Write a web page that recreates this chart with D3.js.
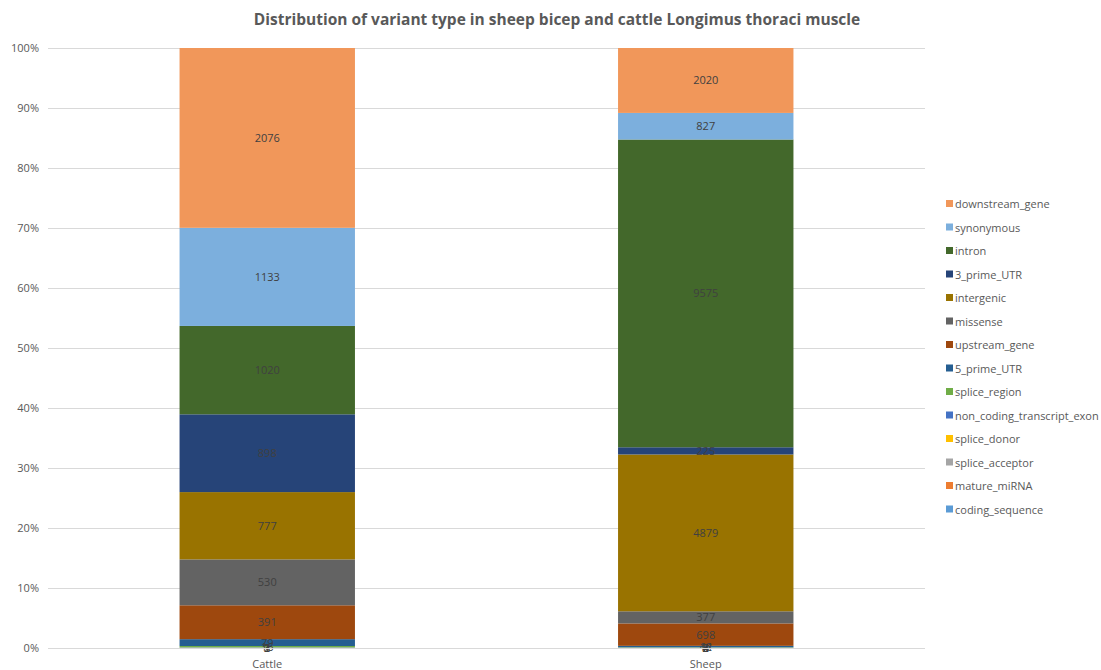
<!DOCTYPE html>
<html>
<head>
<meta charset="utf-8">
<script src="https://cdn.jsdelivr.net/npm/d3@7"></script>
<style>
  body { margin: 0; background: #fff; }
  text { font-family: "Open Sans", "Noto Sans", sans-serif; }
</style>
</head>
<body>
<svg id="chart"></svg>
<script>
const width = 1101, height = 670;

// categories on the x axis
const groups = ["Cattle", "Sheep"];

// variant types, bottom of stack first
const variants = ["coding_sequence", "mature_miRNA", "splice_acceptor", "splice_donor",
  "non_coding_transcript_exon", "splice_region", "5_prime_UTR", "upstream_gene",
  "missense", "intergenic", "3_prime_UTR", "intron", "synonymous", "downstream_gene"];

const colors = ["#5B9BD5", "#ED7D31", "#A5A5A5", "#FFC000", "#4472C4", "#70AD47",
  "#255E91", "#9E480E", "#636363", "#997300", "#264478", "#43682B", "#7CAFDD", "#F1975A"];

// counts per variant type (same order as variants)
const cattleCounts = [1, 0, 2, 1, 3, 16, 79, 391, 530, 777, 898, 1020, 1133, 2076];
const sheepCounts  = [2, 0, 3, 2, 4, 12, 44, 698, 377, 4879, 225, 9575, 827, 2020];

const yTicks = [0, 0.1, 0.2, 0.3, 0.4, 0.5, 0.6, 0.7, 0.8, 0.9, 1];

const table = groups.map((g, i) => {
  const counts = i === 0 ? cattleCounts : sheepCounts;
  const row = { group: g };
  const total = d3.sum(counts);
  variants.forEach((v, j) => { row[v] = counts[j] / total; row[v + "_n"] = counts[j]; });
  return row;
});

const margin = { top: 48, right: 176, bottom: 22, left: 48 };

const svg = d3.select("#chart")
  .attr("width", width)
  .attr("height", height);

const x = d3.scaleBand()
  .domain(groups)
  .range([margin.left, width - margin.right])
  .paddingInner(0.6)
  .paddingOuter(0.3);

const y = d3.scaleLinear()
  .domain([0, 1])
  .range([height - margin.bottom, margin.top]);

// gridlines
svg.append("g")
  .selectAll("line")
  .data(yTicks)
  .enter().append("line")
  .attr("x1", margin.left)
  .attr("x2", width - margin.right)
  .attr("y1", d => Math.round(y(d)) + 0.5)
  .attr("y2", d => Math.round(y(d)) + 0.5)
  .attr("stroke", "#d9d9d9")
  .attr("stroke-width", 1);

// y labels
svg.append("g")
  .selectAll("text")
  .data(yTicks)
  .enter().append("text")
  .attr("x", margin.left - 9)
  .attr("y", d => y(d) + 4)
  .attr("text-anchor", "end")
  .attr("font-size", 11)
  .attr("fill", "#595959")
  .text(d3.format(".0%"));

const stack = d3.stack().keys(variants);
const series = stack(table);

const layers = svg.append("g")
  .selectAll("g")
  .data(series)
  .enter().append("g")
  .attr("fill", (d, i) => colors[i]);

layers.selectAll("rect")
  .data(d => d)
  .enter().append("rect")
  .attr("x", d => x(d.data.group))
  .attr("width", x.bandwidth())
  .attr("y", d => y(d[1]))
  .attr("height", d => y(d[0]) - y(d[1]));

// data labels
const labels = svg.append("g");
series.forEach(s => {
  s.forEach(d => {
    const n = d.data[s.key + "_n"];
    if (n <= 0) return;
    labels.append("text")
      .attr("x", x(d.data.group) + x.bandwidth() / 2)
      .attr("y", y((d[0] + d[1]) / 2) + 4)
      .attr("text-anchor", "middle")
      .attr("font-size", 11)
      .attr("fill", "#404040")
      .text(n);
  });
});

// baseline
svg.append("line")
  .attr("x1", margin.left)
  .attr("x2", width - margin.right)
  .attr("y1", Math.round(y(0)) + 0.5)
  .attr("y2", Math.round(y(0)) + 0.5)
  .attr("stroke", "#d9d9d9");

// x labels
svg.append("g")
  .selectAll("text")
  .data(groups)
  .enter().append("text")
  .attr("x", d => x(d) + x.bandwidth() / 2)
  .attr("y", height - 2)
  .attr("text-anchor", "middle")
  .attr("font-size", 11)
  .attr("fill", "#595959")
  .text(d => d);

// title
svg.append("text")
  .attr("x", 557)
  .attr("y", 25)
  .attr("text-anchor", "middle")
  .attr("font-size", 15.5)
  .attr("font-weight", "bold")
  .attr("fill", "#595959")
  .text("Distribution of variant type in sheep bicep and cattle Longimus thoraci muscle");

// legend, top of stack first
const legendItems = variants.map((v, i) => ({ name: v, color: colors[i] })).reverse();
const legend = svg.append("g")
  .attr("transform", "translate(946, 204)");

const item = legend.selectAll("g")
  .data(legendItems)
  .enter().append("g")
  .attr("transform", (d, i) => "translate(0," + (i * 23.5) + ")");

item.append("rect")
  .attr("x", 0)
  .attr("y", -4)
  .attr("width", 7)
  .attr("height", 7)
  .attr("fill", d => d.color);

item.append("text")
  .attr("x", 9)
  .attr("y", 4)
  .attr("font-size", 11)
  .attr("fill", "#595959")
  .text(d => d.name);
</script>
</body>
</html>
